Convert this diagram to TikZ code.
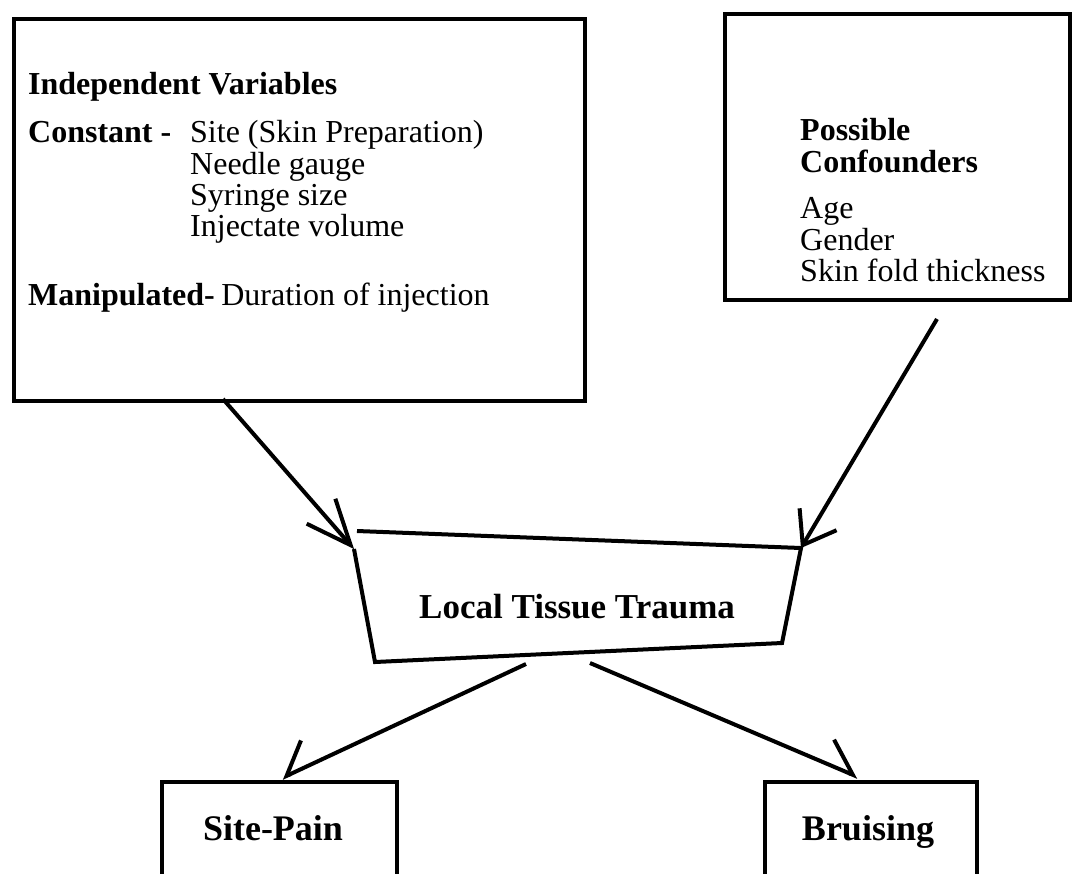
\documentclass[tikz,border=0pt]{standalone}
\usepackage{fontspec}
\setmainfont{Liberation Serif}
\usetikzlibrary{arrows.meta}
\begin{document}
\begin{tikzpicture}[x=1pt,y=-1pt,
  frame/.style={draw=black,line width=4pt,line join=miter,inner sep=0pt,anchor=north west},
  outline/.style={draw=black,line width=4pt,line join=miter},
  txt/.style={anchor=base west,inner sep=0pt,font=\fontsize{32}{33}\selectfont},
  btxt/.style={anchor=base west,inner sep=0pt,font=\fontsize{32}{33}\selectfont\bfseries},
  ltxt/.style={anchor=base west,inner sep=0pt,font=\fontsize{35}{36}\selectfont\bfseries},
  otxt/.style={anchor=base,inner sep=0pt,font=\fontsize{36}{37}\selectfont\bfseries},
  conn/.style={draw=black,line width=4pt},
  tipA/.style={-{Straight Barb[length=45pt,width=38pt,line width=4pt]}},
  tipB/.style={-{Straight Barb[length=30pt,width=43pt,line width=4pt]}},
  tipC/.style={-{Straight Barb[harpoon,swap,length=28pt,width=52pt,line width=4pt]}},
  tipD/.style={-{Straight Barb[harpoon,length=31pt,width=50pt,line width=4pt]}}
]
\useasboundingbox (0,0) rectangle (1073,873);

% Independent variables box
\node[frame,minimum width=571pt,minimum height=382pt] (iv) at (12,17) {};
\node[btxt] (ivt) at (28,94) {Independent Variables};
\node[btxt] (cst) at (28,142) {Constant -};
\node[txt] (c1) at (190,142) {Site (Skin Preparation)};
\node[txt] (c2) at (190,174) {Needle gauge};
\node[txt] (c3) at (190,205) {Syringe size};
\node[txt] (c4) at (190,236) {Injectate volume};
\node[btxt] (man) at (28,305) {Manipulated-};
\node[txt,anchor=base west] (m1) at ([xshift=6pt]man.base east) {Duration of injection};

% Possible confounders box
\node[frame,minimum width=345pt,minimum height=286pt] (pc) at (723,12) {};
\node[btxt] (pct1) at (800,140) {Possible};
\node[btxt] (pct2) at (800,172) {Confounders};
\node[txt] (p1) at (800,218) {Age};
\node[txt] (p2) at (800,250) {Gender};
\node[txt] (p3) at (800,281) {Skin fold thickness};

% Local tissue trauma (irregular quadrilateral)
\coordinate (t1) at (357,531);
\coordinate (t2) at (801,548);
\coordinate (t3) at (782,643);
\coordinate (t4) at (375,662);
\coordinate (t5) at (354,549);
\draw[outline] (t1) -- (t2) -- (t3) -- (t4) -- (t5);
\node[ltxt] (ltt) at (419,618) {Local Tissue Trauma};

% Outcome boxes (cut by the lower edge)
\node[frame,minimum width=235pt,minimum height=140pt] (sp) at (160,780) {};
\node[otxt] (spt) at (273,840) {Site-Pain};
\node[frame,minimum width=212pt,minimum height=140pt] (br) at (763,780) {};
\node[otxt] (brt) at (868,840) {Bruising};

% Connectors
\coordinate (a1s) at (223,399);
\coordinate (a2s) at (937,319);
\coordinate (a3s) at (526,664);
\coordinate (a3e) at (282,778);
\coordinate (a4s) at (590,663);
\coordinate (a4e) at (858,777);
\draw[conn,tipA] (a1s) -- (t5);
\draw[conn,tipB] (a2s) -- (t2);
\draw[conn,tipC] (a3s) -- (a3e);
\draw[conn,tipD] (a4s) -- (a4e);
\end{tikzpicture}
\end{document}
